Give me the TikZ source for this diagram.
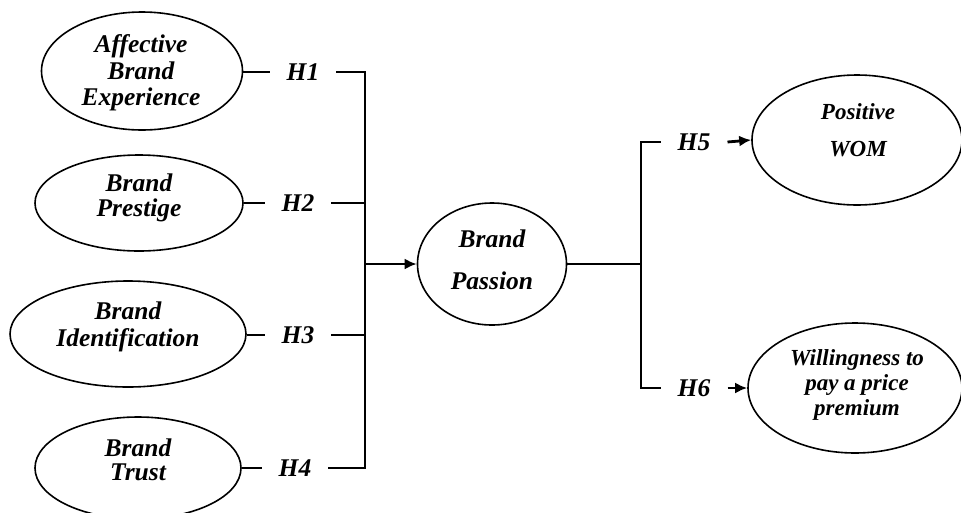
\documentclass[tikz,border=0pt]{standalone}
\usepackage{fontspec}
\setmainfont{Liberation Serif}
\usetikzlibrary{shapes.geometric,arrows.meta}
\begin{document}
\begin{tikzpicture}[x=1pt,y=-1pt,
  cons/.style={ellipse,draw,line width=1.6pt,inner sep=0pt},
  lt/.style={align=center,inner sep=0pt,font=\bfseries\itshape\fontsize{25.5}{26.5}\selectfont},
  rt/.style={align=center,inner sep=0pt,font=\bfseries\itshape\fontsize{23}{25}\selectfont},
  hyp/.style={inner xsep=17pt,inner ysep=2pt,font=\bfseries\itshape\fontsize{25.5}{26}\selectfont},
  link/.style={line width=2.8pt},
  arr/.style={line width=2.8pt,-{Latex[length=12pt,width=11pt]}}]
\useasboundingbox (0,0) rectangle (961,512);
\fill[white] (0,0) rectangle (961,512);
% left constructs
\node[cons,minimum width=201pt,minimum height=118pt] (abe) at (142,71) {};
\node[lt] (abe-t) at (141,73) {Affective\\Brand\\Experience};
\node[cons,minimum width=208pt,minimum height=96pt] (bp) at (139,203) {};
\node[lt] (bp-t) at (139,198) {Brand\\[-2pt]Prestige};
\node[cons,minimum width=236pt,minimum height=106pt] (bi) at (128,334) {};
\node[lt] (bi-t) at (128,327) {Brand\\Identification};
\node[cons,minimum width=206pt,minimum height=102pt] (bt) at (138,468) {};
\node[lt] (bt-t) at (138,460) {Brand\\[-3pt]Trust};
% central
\node[cons,minimum width=149pt,minimum height=122pt] (pas) at (492,264) {};
\node[lt] (pas-t) at (492,260) {Brand\\[16pt]Passion};
% right constructs
\node[cons,minimum width=210pt,minimum height=130pt] (wom) at (857,140) {};
\node[rt] (wom-t) at (858,130) {Positive\\[12pt]WOM};
\node[cons,minimum width=214pt,minimum height=130pt] (wtp) at (855,388) {};
\node[rt] (wtp-t) at (857,385) {Willingness to\\pay a price\\premium};
% hypothesis labels
\node[hyp] (h1) at (303,72) {H1};
\node[hyp] (h2) at (298,203) {H2};
\node[hyp] (h3) at (298,335) {H3};
\node[hyp] (h4) at (295,468) {H4};
\node[hyp] (h5) at (694,142) {H5};
\node[hyp] (h6) at (694,388) {H6};
% bus coordinates
\coordinate (b1) at (365,72);
\coordinate (b2) at (365,203);
\coordinate (b3) at (365,335);
\coordinate (b4) at (365,468);
\coordinate (j) at (365,264);
\coordinate (k) at (641,264);
\coordinate (b5) at (641,142);
\coordinate (b6) at (641,388);
% connectors left
\draw[link] (abe.east |- h1.west) -- (h1.west);
\draw[link] (bp.east) -- (h2.west);
\draw[link] (bi.east |- h3.west) -- (h3.west);
\draw[link] (bt.east) -- (h4.west);
\draw[link] (h1.east) -- (b1);
\draw[link] (h2.east) -- (b2);
\draw[link] (h3.east) -- (b3);
\draw[link] (h4.east) -- (b4);
\draw[link,line cap=rect] (b1) -- (b4);
\draw[arr] (j) -- (pas.west);
% connectors right
\draw[link] (pas.east) -- (k);
\draw[link,line cap=rect] (b5) -- (b6);
\draw[link] (b5) -- (h5.west);
\draw[link] (b6) -- (h6.west);
\draw[arr] (h5.east) -- (wom.west);
\draw[arr] (h6.east) -- (wtp.west);
\end{tikzpicture}
\end{document}
